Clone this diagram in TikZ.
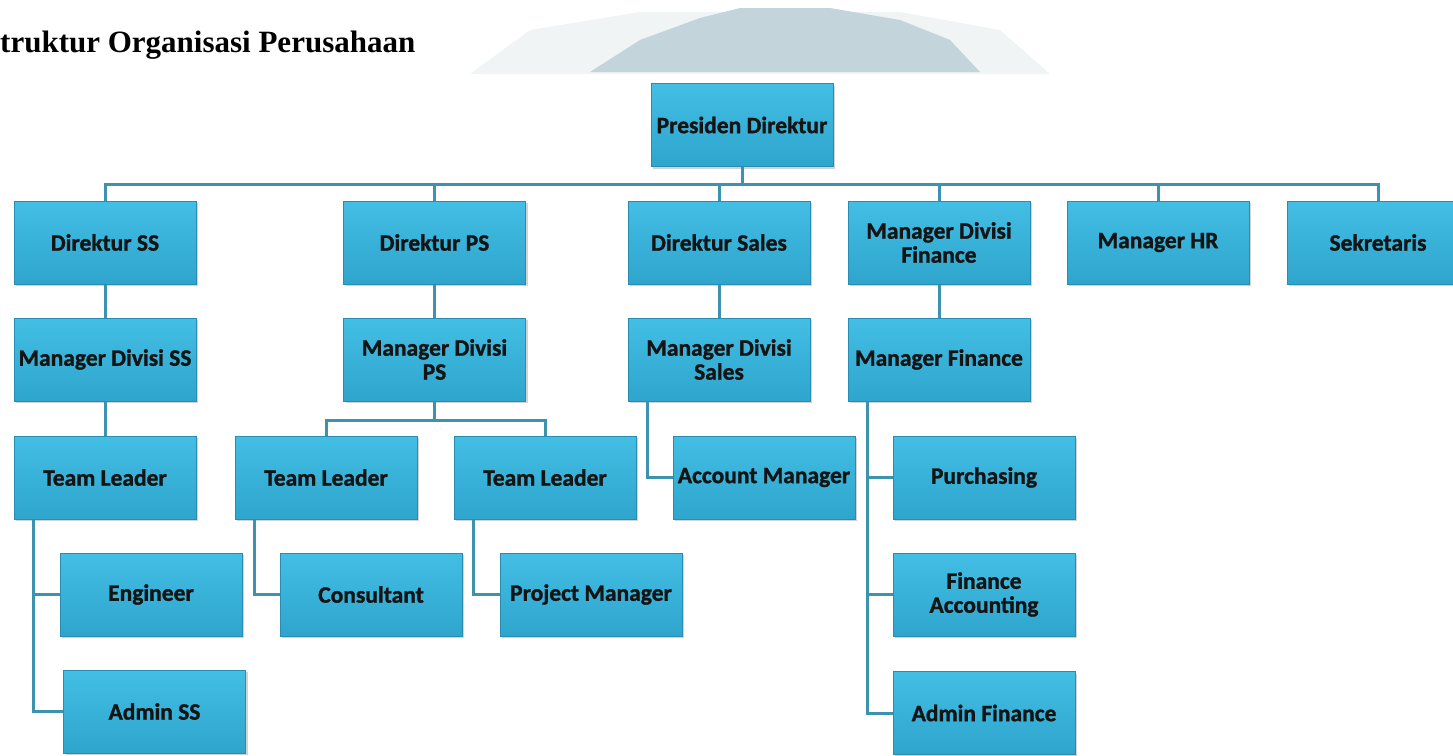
\documentclass[tikz,border=0pt]{standalone}
\usepackage{fontspec}
\setmainfont{Liberation Serif}
\newfontfamily\boxfont{Carlito}[BoldFeatures={FakeBold=1.2}]
\usetikzlibrary{shadows}
\definecolor{boxtop}{HTML}{43BEE4}
\definecolor{boxbot}{HTML}{2EA5CD}
\definecolor{boxline}{HTML}{2A8CB0}
\definecolor{connc}{HTML}{3D93AE}
\definecolor{wmark}{HTML}{C4D4DB}
\definecolor{wlight}{HTML}{F1F4F5}
\begin{document}
\begin{tikzpicture}[x=1pt,y=-1pt,
  ob/.style={rectangle, minimum width=182pt, minimum height=83pt, inner sep=0pt,
    top color=boxtop, bottom color=boxbot, draw=boxline, line width=1pt,
    drop shadow={shadow xshift=2pt, shadow yshift=-2pt, opacity=0.35},
    align=center, font=\boxfont\bfseries\fontsize{23.5}{24}\selectfont, text=black!92},
  conn/.style={draw=connc, line width=3pt}]
\useasboundingbox (0,0) rectangle (1453,755);
% watermark
\fill[wlight] (470,74) -- (530,30) -- (640,12) -- (900,12) -- (1000,30) -- (1050,74) -- cycle;
\fill[wmark] (590,72) -- (640,40) -- (700,18) -- (740,8) -- (830,8) -- (900,20) -- (950,40) -- (980,72) -- cycle;
% title
\node[anchor=base west, inner sep=0, font=\bfseries\fontsize{31}{34}\selectfont] (title) at (0,52) {truktur Organisasi Perusahaan};
\coordinate (bus) at (0,184);
\coordinate (psbus) at (0,420);
% nodes
\node[ob] (pd) at (742,125) {Presiden Direktur};
\node[ob] (dss) at (105,242.5) {Direktur SS};
\node[ob] (dps) at (434.5,242.5) {Direktur PS};
\node[ob] (dsales) at (719,242.5) {Direktur Sales};
\node[ob] (mdf) at (939,242.5) {Manager Divisi\\Finance};
\node[ob] (mhr) at (1158,242.5) {Manager HR};
\node[ob] (sek) at (1378,242.5) {Sekretaris};
\node[ob] (mdss) at (105,359.5) {Manager Divisi SS};
\node[ob] (mdps) at (434.5,359.5) {Manager Divisi\\PS};
\node[ob] (mdsales) at (719,359.5) {Manager Divisi\\Sales};
\node[ob] (mfin) at (939,359.5) {Manager Finance};
\node[ob] (tl1) at (105,477.5) {Team Leader};
\node[ob] (tl2) at (326,477.5) {Team Leader};
\node[ob] (tl3) at (545,477.5) {Team Leader};
\node[ob] (am) at (764,477.5) {Account Manager};
\node[ob] (pur) at (984,477.5) {Purchasing};
\node[ob] (eng) at (151,594.5) {Engineer};
\node[ob] (cons) at (371,594.5) {Consultant};
\node[ob] (pm) at (591,594.5) {Project Manager};
\node[ob] (fa) at (984,594.5) {Finance\\Accounting};
\node[ob] (ass) at (154.5,711.5) {Admin SS};
\node[ob] (af) at (984,713) {Admin Finance};
% top bus
\draw[conn] (pd.south) -- (pd.south |- bus);
\draw[conn] (dss.north) -- (dss.north |- bus) -- (sek.north |- bus) -- (sek.north);
\foreach \n in {dps,dsales,mdf,mhr} \draw[conn] (\n.north) -- (\n.north |- bus);
% vertical links
\draw[conn] (dss.south) -- (mdss.north);
\draw[conn] (dps.south) -- (mdps.north);
\draw[conn] (dsales.south) -- (mdsales.north);
\draw[conn] (mdf.south) -- (mfin.north);
\draw[conn] (mdss.south) -- (tl1.north);
% PS team leaders
\draw[conn] (mdps.south) -- (mdps.south |- psbus);
\draw[conn] (tl2.north) -- (tl2.north |- psbus) -- (tl3.north |- psbus) -- (tl3.north);
% sales
\coordinate (salesl) at ([xshift=20pt]mdsales.south west);
\draw[conn] (salesl) |- (am.west);
% finance
\coordinate (finl) at ([xshift=20pt]mfin.south west);
\draw[conn] (finl) |- (af.west);
\draw[conn] (pur.west) -- (pur.west -| finl);
\draw[conn] (fa.west) -- (fa.west -| finl);
% SS
\coordinate (ssl) at ([xshift=20pt]tl1.south west);
\draw[conn] (ssl) |- (ass.west);
\draw[conn] (eng.west) -- (eng.west -| ssl);
% PS subordinates
\coordinate (tl2l) at ([xshift=20pt]tl2.south west);
\draw[conn] (tl2l) |- (cons.west);
\coordinate (tl3l) at ([xshift=20pt]tl3.south west);
\draw[conn] (tl3l) |- (pm.west);
\end{tikzpicture}
\end{document}
